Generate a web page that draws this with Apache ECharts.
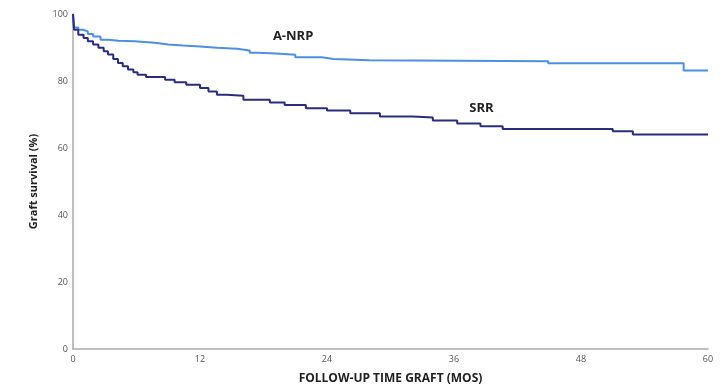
<!DOCTYPE html>
<html><head><meta charset="utf-8">
<script src="https://cdn.jsdelivr.net/npm/echarts@6/dist/echarts.min.js"></script>
<style>html,body{margin:0;padding:0;background:#fff}#c{width:728px;height:390px}</style>
</head><body><div id="c"></div>
<script>
const xTicks = [0, 12, 24, 36, 48, 60];
const yTicks = [0, 20, 40, 60, 80, 100];
const anrpTime = [0, 0.1, 0.5, 0.95, 1.4, 1.9, 2.6, 3.4, 4.25, 5.8, 7.7, 9, 10.4, 12, 13.6, 15.5, 16.7, 17.5, 19.2, 21, 23.5, 24.6, 28, 44.9, 57.7, 60];
const anrpSurv = [100, 96, 95.3, 94.8, 94, 93.3, 92.3, 92, 91.9, 91.4, 90.9, 90.6, 90.3, 89.9, 89.6, 89.1, 88.4, 88.2, 87.8, 87.1, 86.6, 86.2, 85.9, 85.3, 83.1, 83.1];
const srrTime = [0, 0.1, 0.5, 1, 1.4, 1.9, 2.4, 2.9, 3.3, 3.8, 4.25, 4.7, 5.2, 5.7, 6.1, 6.9, 8.7, 9.6, 10.7, 12, 12.8, 13.6, 14.5, 16.1, 18.6, 20, 22, 24, 26.2, 29, 32.1, 34, 36.3, 38.5, 40.6, 51, 52.9, 60];
const srrSurv = [100, 95.3, 93.8, 92.8, 91.9, 90.9, 89.9, 88.9, 87.9, 86.6, 85.4, 84.4, 83.4, 82.6, 81.9, 81.2, 80.4, 79.6, 78.9, 77.9, 76.9, 75.9, 75.6, 74.4, 73.6, 72.8, 71.9, 71.2, 70.4, 69.4, 69.1, 68.2, 67.3, 66.5, 65.7, 65, 64, 64];
const seriesNames = ['A-NRP', 'SRR'];
const labelPos = [[20.8, 93.2], [38.6, 72]];

const zip = (a, b) => a.map((v, i) => [v, b[i]]);
const chart = echarts.init(document.getElementById('c'));
const tickLabel = {color: '#555', fontSize: 9, fontFamily: 'Open Sans'};
function mk(name, data, color, pos) {
  return {
    name, type: 'line', step: 'end', data, showSymbol: false, symbol: 'none',
    lineStyle: {color, width: 2}, silent: true,
    markPoint: {symbol: 'circle', symbolSize: 0, data: [{coord: pos}],
      label: {show: true, formatter: name, color: '#222', fontWeight: 'bold', fontSize: 13, fontFamily: 'Open Sans', position: 'inside'}}
  };
}
chart.setOption({
  animation: false,
  grid: {left: 73, right: 20, top: 14, bottom: 40},
  xAxis: {type: 'value', min: 0, max: 60, interval: 12,
    name: 'FOLLOW-UP TIME GRAFT (MOS)', nameLocation: 'middle', nameGap: 24,
    nameTextStyle: {fontWeight: 'bold', fontSize: 12, color: '#222', fontFamily: 'Open Sans'},
    axisLine: {lineStyle: {color: '#aaa', width: 1.5}}, axisTick: {show: false},
    splitLine: {show: false}, axisLabel: Object.assign({margin: 6, formatter: v => xTicks.includes(v) ? v : ''}, tickLabel)},
  yAxis: {type: 'value', min: 0, max: 100, interval: 20,
    name: 'Graft survival (%)', nameLocation: 'middle', nameGap: 34,
    nameTextStyle: {fontWeight: 'bold', fontSize: 11, color: '#222', fontFamily: 'Open Sans'},
    axisLine: {show: true, lineStyle: {color: '#aaa', width: 1.5}}, axisTick: {show: false},
    splitLine: {show: false}, axisLabel: Object.assign({margin: 5, formatter: v => yTicks.includes(v) ? v : ''}, tickLabel)},
  series: [
    mk(seriesNames[0], zip(anrpTime, anrpSurv), '#4d8fe0', labelPos[0]),
    mk(seriesNames[1], zip(srrTime, srrSurv), '#2b2c7c', labelPos[1])
  ]
});
</script></body></html>
